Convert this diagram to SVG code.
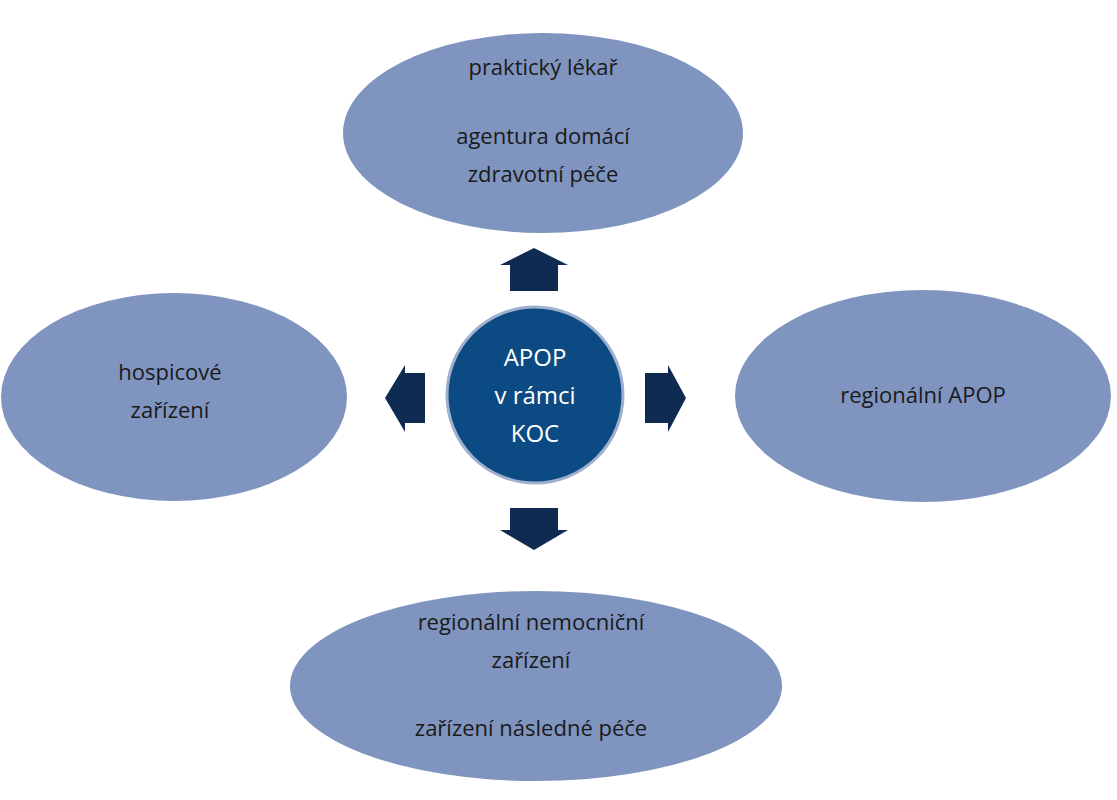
<svg xmlns="http://www.w3.org/2000/svg" width="1117" height="800" viewBox="0 0 1117 800">
<style>
.el{fill:#7f94bf}
.ar{fill:#0f2b52}
text{font-family:"Open Sans","Liberation Sans",sans-serif;font-size:22px;fill:#1a1a1a;text-anchor:middle}
.c{fill:#fff;font-size:24px}
</style>
<rect width="1117" height="800" fill="#fff"/>
<g id="connectors">
<polygon class="ar" points="534,248 568,265 558,265 558,291 510,291 510,265 500,265"/>
<polygon class="ar" points="510,508 558,508 558,530 568,530 534,550 500,530 510,530"/>
<polygon class="ar" points="385,398 405,365 405,373 425,373 425,423 405,423 405,432"/>
<polygon class="ar" points="645,373 668,373 668,365 686,398 668,432 668,423 645,423"/>
</g>
<g id="top"><ellipse class="el" cx="543" cy="133" rx="200" ry="100"/>
<text x="543" y="75">praktický lékař</text><text x="543" y="144">agentura domácí</text><text x="543" y="182">zdravotní péče</text></g>
<g id="left"><ellipse class="el" cx="174" cy="397" rx="173" ry="104"/>
<text x="170" y="380">hospicové</text><text x="170" y="418">zařízení</text></g>
<g id="right"><ellipse class="el" cx="923" cy="396" rx="188" ry="106"/>
<text x="923" y="403">regionální APOP</text></g>
<g id="bottom"><ellipse class="el" cx="536" cy="686" rx="246" ry="95"/>
<text x="531" y="630">regionální nemocniční</text><text x="531" y="668">zařízení</text><text x="531" y="736">zařízení následné péče</text></g>
<g id="center"><circle cx="535" cy="395" r="88" fill="#0b4a82" stroke="#9fb0cf" stroke-width="3"/>
<text class="c" x="535" y="366">APOP</text><text class="c" x="535" y="404">v rámci</text><text class="c" x="535" y="442">KOC</text></g>
</svg>
